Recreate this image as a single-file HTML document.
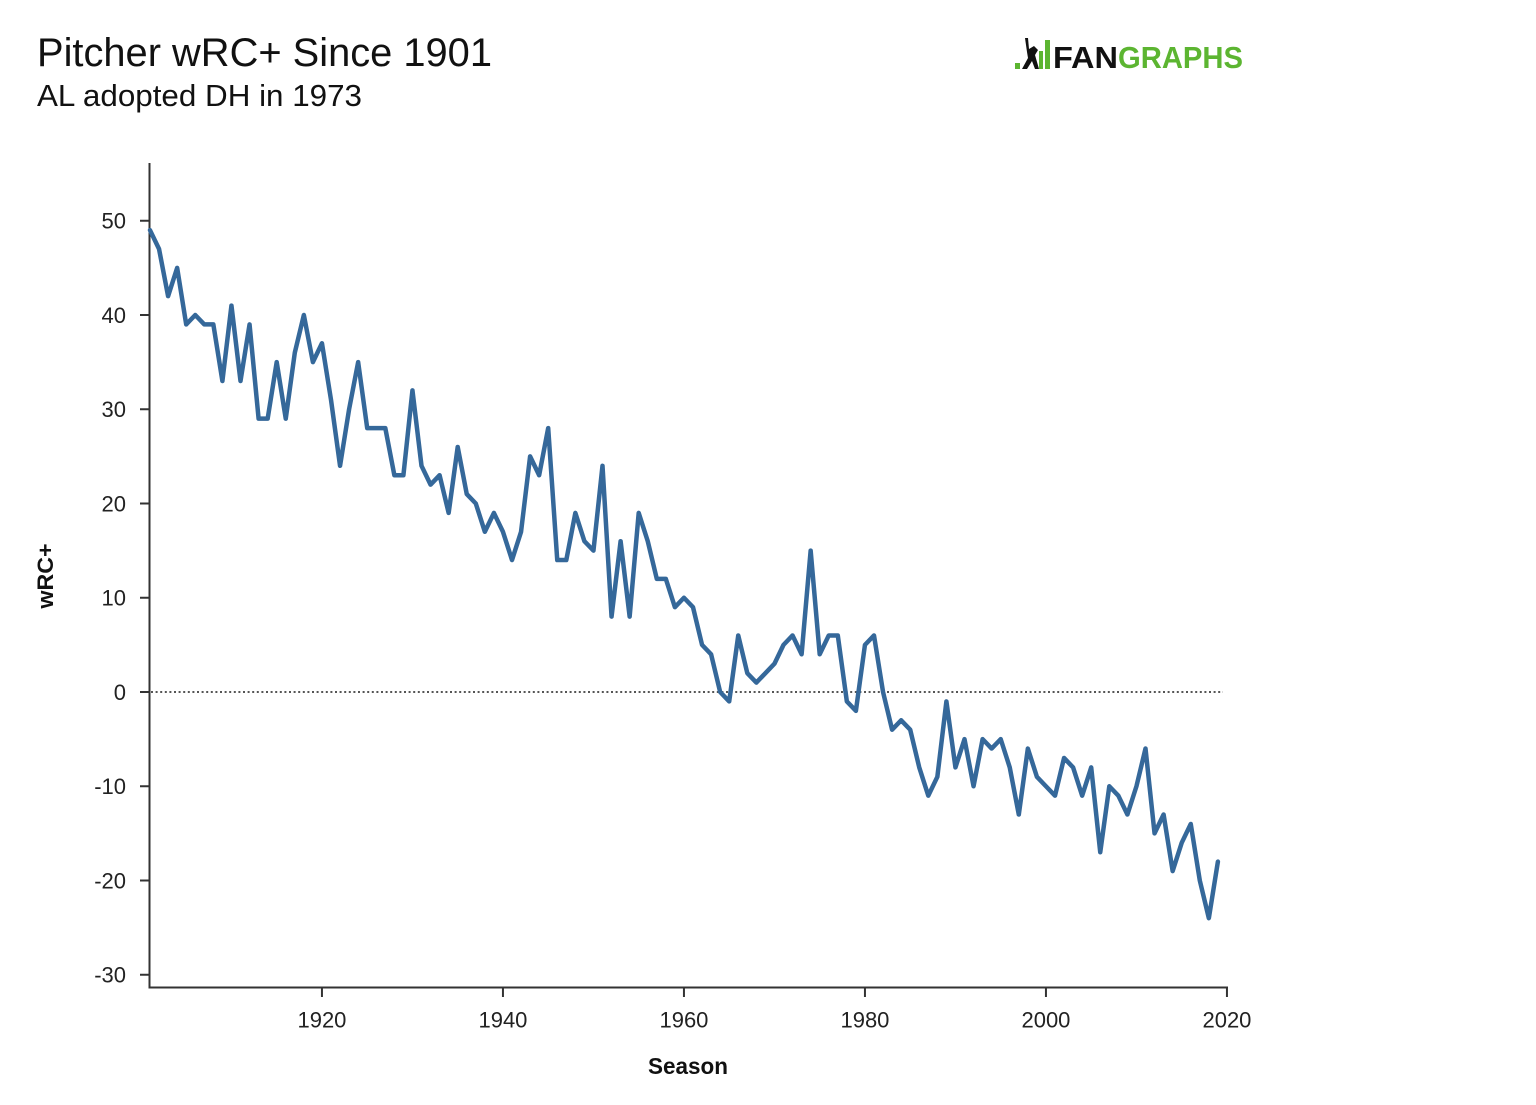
<!DOCTYPE html>
<html>
<head>
<meta charset="utf-8">
<style>
  html, body { margin:0; padding:0; background:#ffffff; }
  body { width:1536px; height:1105px; overflow:hidden; }
  svg { display:block; }
  text { font-family: "Liberation Sans", "DejaVu Sans", sans-serif; }
</style>
</head>
<body>
<svg width="1536" height="1105" viewBox="0 0 1536 1105" xmlns="http://www.w3.org/2000/svg">
  <rect x="0" y="0" width="1536" height="1105" fill="#ffffff"/>

  <!-- Titles -->
  <text x="37" y="66" font-size="40" fill="#111" textLength="455" lengthAdjust="spacingAndGlyphs">Pitcher wRC+ Since 1901</text>
  <text x="37" y="106" font-size="31" fill="#111" textLength="325" lengthAdjust="spacingAndGlyphs">AL adopted DH in 1973</text>

  <!-- FanGraphs logo -->
  <g>
    <rect x="1015" y="63" width="5" height="6" fill="#5cb531"/>
    <!-- batter figure -->
    <path d="M1025 38 L1028 38 L1029 49 L1034 46 L1038 50 L1035 55 L1039 69 L1035 69 L1032 61 L1027 69 L1022 69 L1028 58 L1027 52 Z" fill="#111"/>
    <rect x="1039" y="51" width="4" height="18" fill="#5cb531"/>
    <rect x="1045" y="40" width="5" height="29" fill="#5cb531"/>
    <text x="1053" y="68" font-size="31" font-weight="bold" fill="#111" textLength="65" lengthAdjust="spacingAndGlyphs">FAN</text>
    <text x="1118" y="68" font-size="31" font-weight="bold" fill="#5cb531" textLength="125" lengthAdjust="spacingAndGlyphs">GRAPHS</text>
  </g>

  <!-- Zero reference line -->
  <line x1="151" y1="692" x2="1223" y2="692" stroke="#555" stroke-width="2" stroke-dasharray="2,2.6"/>

  <!-- Axes -->
  <line x1="149.5" y1="163" x2="149.5" y2="988" stroke="#333" stroke-width="2"/>
  <line x1="148.5" y1="987.5" x2="1228" y2="987.5" stroke="#333" stroke-width="2"/>

  <!-- Y ticks -->
  <g stroke="#333" stroke-width="2">
    <line x1="140" y1="220.75" x2="149" y2="220.75"/>
    <line x1="140" y1="315" x2="149" y2="315"/>
    <line x1="140" y1="409.25" x2="149" y2="409.25"/>
    <line x1="140" y1="503.5" x2="149" y2="503.5"/>
    <line x1="140" y1="597.75" x2="149" y2="597.75"/>
    <line x1="140" y1="692" x2="149" y2="692"/>
    <line x1="140" y1="786.25" x2="149" y2="786.25"/>
    <line x1="140" y1="880.5" x2="149" y2="880.5"/>
    <line x1="140" y1="974.75" x2="149" y2="974.75"/>
  </g>
  <g font-size="22" fill="#222" text-anchor="end">
    <text x="126" y="228.7">50</text>
    <text x="126" y="323">40</text>
    <text x="126" y="417.2">30</text>
    <text x="126" y="511.5">20</text>
    <text x="126" y="605.7">10</text>
    <text x="126" y="700">0</text>
    <text x="126" y="794.2">-10</text>
    <text x="126" y="888.5">-20</text>
    <text x="126" y="982.7">-30</text>
  </g>

  <!-- X ticks -->
  <g stroke="#333" stroke-width="2">
    <line x1="321.95" y1="987" x2="321.95" y2="997"/>
    <line x1="502.95" y1="987" x2="502.95" y2="997"/>
    <line x1="683.95" y1="987" x2="683.95" y2="997"/>
    <line x1="864.95" y1="987" x2="864.95" y2="997"/>
    <line x1="1045.95" y1="987" x2="1045.95" y2="997"/>
    <line x1="1226.95" y1="987" x2="1226.95" y2="997"/>
  </g>
  <g font-size="22" fill="#222" text-anchor="middle">
    <text x="321.95" y="1027.5">1920</text>
    <text x="502.95" y="1027.5">1940</text>
    <text x="683.95" y="1027.5">1960</text>
    <text x="864.95" y="1027.5">1980</text>
    <text x="1045.95" y="1027.5">2000</text>
    <text x="1226.95" y="1027.5">2020</text>
  </g>

  <!-- Axis titles -->
  <text x="688" y="1074" font-size="23" font-weight="bold" fill="#111" text-anchor="middle" textLength="80" lengthAdjust="spacingAndGlyphs">Season</text>
  <text transform="translate(53,576) rotate(-90)" font-size="22" font-weight="bold" fill="#111" text-anchor="middle" textLength="65" lengthAdjust="spacingAndGlyphs">wRC+</text>

  <!-- Data series -->
  <g transform="translate(150,692) scale(9.05,-9.425)">
    <polyline fill="none" stroke="#35689a" stroke-width="4.5" stroke-linejoin="round" stroke-linecap="round" vector-effect="non-scaling-stroke"
      points="0,49 1,47 2,42 3,45 4,39 5,40 6,39 7,39 8,33 9,41 10,33 11,39 12,29 13,29 14,35 15,29 16,36 17,40 18,35 19,37 20,31 21,24 22,30 23,35 24,28 25,28 26,28 27,23 28,23 29,32 30,24 31,22 32,23 33,19 34,26 35,21 36,20 37,17 38,19 39,17 40,14 41,17 42,25 43,23 44,28 45,14 46,14 47,19 48,16 49,15 50,24 51,8 52,16 53,8 54,19 55,16 56,12 57,12 58,9 59,10 60,9 61,5 62,4 63,0 64,-1 65,6 66,2 67,1 68,2 69,3 70,5 71,6 72,4 73,15 74,4 75,6 76,6 77,-1 78,-2 79,5 80,6 81,0 82,-4 83,-3 84,-4 85,-8 86,-11 87,-9 88,-1 89,-8 90,-5 91,-10 92,-5 93,-6 94,-5 95,-8 96,-13 97,-6 98,-9 99,-10 100,-11 101,-7 102,-8 103,-11 104,-8 105,-17 106,-10 107,-11 108,-13 109,-10 110,-6 111,-15 112,-13 113,-19 114,-16 115,-14 116,-20 117,-24 118,-18"/>
  </g>
</svg>
</body>
</html>
